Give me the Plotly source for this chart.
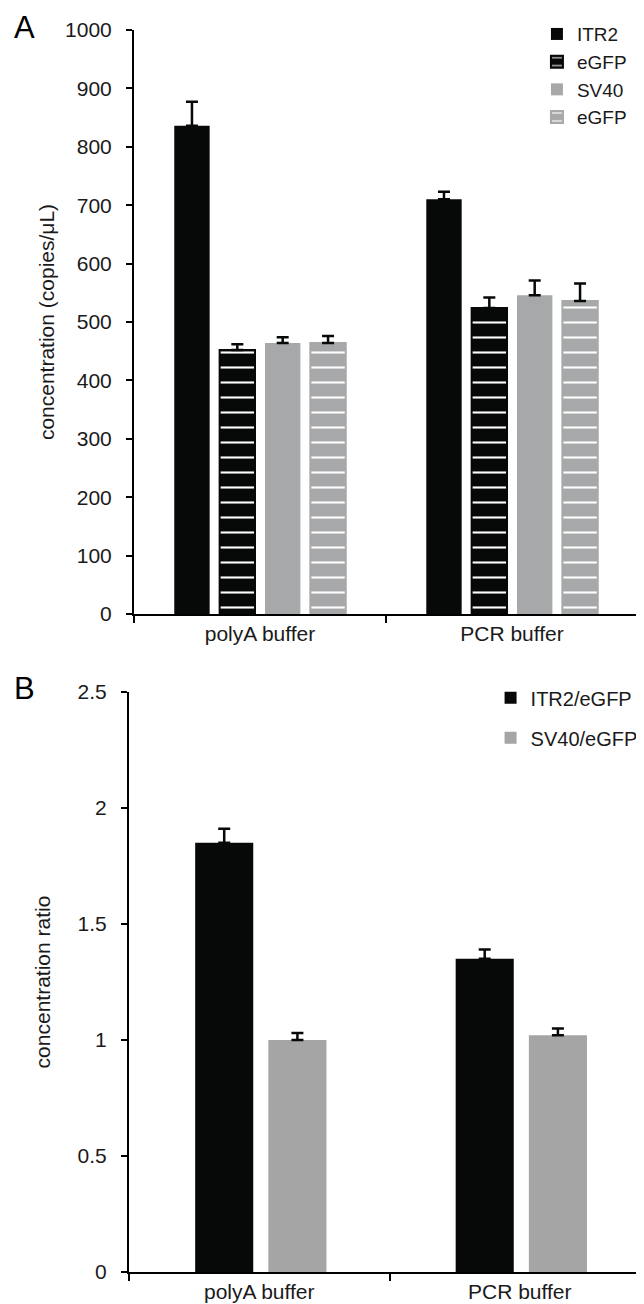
import plotly.graph_objects as go

# ---- data ----
categories = ["polyA buffer", "PCR buffer"]

# panel A: concentration (copies/uL)
itr2 = [836, 710]
itr2_err = [41, 13]
egfp_1 = [452, 524]
egfp_1_err = [10, 18]
sv40 = [464, 546]
sv40_err = [10, 25]
egfp_2 = [464, 536]
egfp_2_err = [12, 30]

# panel B: concentration ratio
ratio_itr2 = [1.85, 1.35]
ratio_itr2_err = [0.06, 0.04]
ratio_sv40 = [1.0, 1.02]
ratio_sv40_err = [0.03, 0.03]

BLACK = "#070808"
GREY_A = "#a7a8aa"
GREY_B = "#a5a5a5"
FONT = "Liberation Sans, Arial, sans-serif"
TXT = "#1a1a1a"


def err(vals, width):
    return dict(type="data", array=vals, arrayminus=[0] * len(vals), symmetric=False,
                color=BLACK, thickness=2.5, width=width)


def striped(color):
    return dict(shape="-", fgcolor="white", bgcolor=color, size=15, solidity=0.14, fillmode="replace")


fig = go.Figure()

# panel A
fig.add_trace(go.Bar(x=categories, y=itr2, name="ITR2", xaxis="x", yaxis="y",
                     marker=dict(color=BLACK, line=dict(width=0)),
                     error_y=err(itr2_err, 6), legend="legend"))
fig.add_trace(go.Bar(x=categories, y=egfp_1, name="eGFP", xaxis="x", yaxis="y",
                     marker=dict(color=BLACK, line=dict(color=BLACK, width=2), pattern=striped(BLACK)),
                     error_y=err(egfp_1_err, 6), legend="legend"))
fig.add_trace(go.Bar(x=categories, y=sv40, name="SV40", xaxis="x", yaxis="y",
                     marker=dict(color=GREY_A, line=dict(width=0)),
                     error_y=err(sv40_err, 6), legend="legend"))
fig.add_trace(go.Bar(x=categories, y=egfp_2, name="eGFP", xaxis="x", yaxis="y",
                     marker=dict(color=GREY_A, line=dict(color=GREY_A, width=2), pattern=striped(GREY_A)),
                     error_y=err(egfp_2_err, 6), legend="legend"))

# panel B - explicit width/offset so it can have its own gaps
fig.add_trace(go.Bar(x=categories, y=ratio_itr2, name="ITR2/eGFP", xaxis="x2", yaxis="y2",
                     width=0.223, offset=-0.246, legendgroup="b1",
                     marker=dict(color=BLACK, line=dict(width=0)),
                     error_y=err(ratio_itr2_err, 6), legend="legend2"))
fig.add_trace(go.Bar(x=categories, y=ratio_sv40, name="SV40/eGFP", xaxis="x2", yaxis="y2",
                     width=0.223, offset=0.035, legendgroup="b2",
                     marker=dict(color=GREY_B, line=dict(width=0)),
                     error_y=err(ratio_sv40_err, 6), legend="legend2"))

axis_common = dict(showline=True, linecolor="black", linewidth=2, ticks="outside",
                   tickcolor="black", tickwidth=2, showgrid=False, zeroline=False,
                   tickfont=dict(family=FONT, size=21, color=TXT))

fig.update_layout(
    width=644, height=1304,
    margin=dict(l=121, r=2, t=22, b=40),
    paper_bgcolor="white", plot_bgcolor="white",
    barmode="group", bargap=0.28, bargroupgap=0.22,
    font=dict(family=FONT, size=21, color=TXT),
    xaxis=dict(axis_common, domain=[0.0096, 0.977], anchor="y", tickson="boundaries", ticklen=7),
    yaxis=dict(axis_common, domain=[0.5298, 1.0], anchor="x", range=[0, 1000], dtick=100, ticklen=6,
               ticklabelstandoff=10,
               title=dict(text="concentration (copies/μL)", standoff=5,
                          font=dict(family=FONT, size=21, color=TXT))),
    xaxis2=dict(axis_common, domain=[0, 1.0], anchor="y2", tickson="boundaries", ticklen=7),
    yaxis2=dict(axis_common, domain=[0, 0.467], anchor="x2", range=[0, 2.5], dtick=0.5, ticklen=6,
                ticklabelstandoff=10,
                title=dict(text="concentration ratio", standoff=21,
                           font=dict(family=FONT, size=21, color=TXT))),
    legend=dict(x=0.783, y=1.012, xanchor="left", yanchor="top", bgcolor="rgba(0,0,0,0)",
                font=dict(family=FONT, size=19, color=TXT), tracegroupgap=0, itemwidth=30),
    legend2=dict(x=0.694, y=0.478, xanchor="left", yanchor="top", bgcolor="rgba(0,0,0,0)",
                 font=dict(family=FONT, size=20, color=TXT), traceorder="grouped",
                 tracegroupgap=11, itemwidth=30),
    annotations=[
        dict(text="A", x=-0.225, y=1.0177, xref="paper", yref="paper", xanchor="left", yanchor="top",
             showarrow=False, font=dict(family=FONT, size=31, color="black")),
        dict(text="B", x=-0.225, y=0.4855, xref="paper", yref="paper", xanchor="left", yanchor="top",
             showarrow=False, font=dict(family=FONT, size=31, color="black")),
    ],
)

fig.write_html("out.html")
